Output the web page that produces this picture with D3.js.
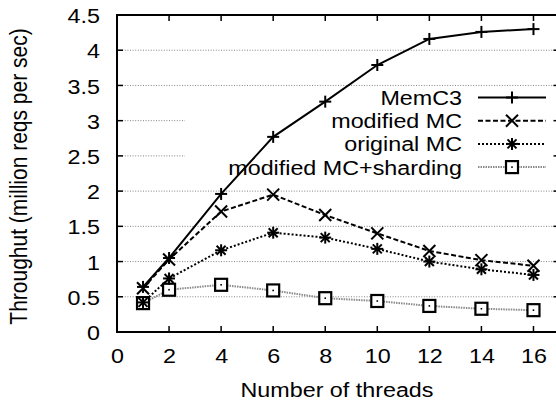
<!DOCTYPE html>
<html><head><meta charset="utf-8">
<script src="https://cdn.jsdelivr.net/npm/d3@7"></script>
<style>
body{margin:0;background:#fff;}
text{font-family:"Liberation Sans",Arial,Helvetica,sans-serif;}
</style></head>
<body><svg id="c" width="556" height="405"></svg>
<script>
const threads = [1, 2, 4, 6, 8, 10, 12, 14, 16];
const memc3 = [0.64, 1.05, 1.96, 2.77, 3.27, 3.79, 4.16, 4.26, 4.30];
const modifiedMC = [0.62, 1.03, 1.71, 1.95, 1.66, 1.40, 1.15, 1.02, 0.94];
const originalMC = [0.42, 0.76, 1.16, 1.41, 1.34, 1.18, 1.00, 0.89, 0.81];
const shardingMC = [0.41, 0.60, 0.67, 0.59, 0.48, 0.44, 0.37, 0.33, 0.31];
const seriesNames = ["MemC3", "modified MC", "original MC", "modified MC+sharding"];
const xTicks = [0, 2, 4, 6, 8, 10, 12, 14, 16];
const yTicks = [0, 0.5, 1, 1.5, 2, 2.5, 3, 3.5, 4, 4.5];

const FS = 21, SX = 1.11;
const svg = d3.select("#c");
const L = 117, T = 15, B = 332, R = 559.5;
const x = d3.scaleLinear().domain([0, 17]).range([L, R]);
const y = d3.scaleLinear().domain([0, 4.5]).range([B, T]);

const series = [
  {name: seriesNames[0], vals: memc3, stroke: "#000", dash: null, marker: "plus"},
  {name: seriesNames[1], vals: modifiedMC, stroke: "#000", dash: "5,2.5", marker: "cross"},
  {name: seriesNames[2], vals: originalMC, stroke: "#000", dash: "2,2", marker: "star"},
  {name: seriesNames[3], vals: shardingMC, stroke: "#8a8a8a", dash: "1.5,1", marker: "square"}
];

function htext(px, py, str, anchor) {
  return svg.append("text").attr("transform", `translate(${px},${py}) scale(${SX},1)`)
    .attr("text-anchor", anchor).attr("font-size", FS).attr("fill", "#000").text(str);
}

// grid
const grid = svg.append("g");
yTicks.filter(d => d > 0 && d < 4.5).forEach(v => {
  grid.append("line").attr("x1", L).attr("x2", 556).attr("y1", y(v)).attr("y2", y(v))
    .attr("stroke", "#666").attr("stroke-width", 0.8).attr("stroke-dasharray", "1,1.6");
});

// legend opaque box
svg.append("rect").attr("x", 185).attr("y", 88).attr("width", 371).attr("height", 100).attr("fill", "#fff");

// axes
const xAxisB = d3.axisBottom(x).tickValues(xTicks).tickSize(0).tickPadding(0);
const gx = svg.append("g").attr("transform", `translate(0,${B})`).call(xAxisB);
gx.select(".domain").remove();
gx.selectAll("text").attr("font-size", FS).attr("fill", "#000").attr("dy", null).attr("y", null)
  .attr("transform", `translate(0,31) scale(${SX},1)`)
  .style("font-family", '"Liberation Sans",Arial,sans-serif');

const yAxisL = d3.axisLeft(y).tickValues(yTicks).tickSize(0).tickPadding(0).tickFormat(d3.format("~g"));
const gy = svg.append("g").attr("transform", `translate(${L},0)`).call(yAxisL);
gy.select(".domain").remove();
gy.selectAll("text").attr("font-size", FS).attr("fill", "#000").attr("x", null).attr("dy", "0.36em")
  .attr("transform", `translate(-17,0) scale(${SX},1)`)
  .style("font-family", '"Liberation Sans",Arial,sans-serif');

// tick marks inward
const tk = svg.append("g").attr("stroke", "#000").attr("stroke-width", 1.5);
xTicks.filter(d => d > 0).forEach(v => {
  tk.append("line").attr("x1", x(v)).attr("x2", x(v)).attr("y1", B).attr("y2", B - 6);
  tk.append("line").attr("x1", x(v)).attr("x2", x(v)).attr("y1", T).attr("y2", T + 6);
});
yTicks.filter(d => d > 0 && d < 4.5).forEach(v => {
  tk.append("line").attr("x1", L).attr("x2", L + 6).attr("y1", y(v)).attr("y2", y(v));
  tk.append("line").attr("x1", R).attr("x2", R - 6).attr("y1", y(v)).attr("y2", y(v));
});

// frame
svg.append("rect").attr("x", L).attr("y", T).attr("width", R - L).attr("height", B - T)
  .attr("fill", "none").attr("stroke", "#000").attr("stroke-width", 2);

// axis titles
htext(337, 397, "Number of threads", "middle");
svg.append("text").attr("transform", `translate(27,${(T + B) / 2 + 3}) rotate(-90) scale(1,${SX})`)
  .attr("text-anchor", "middle").attr("font-size", FS).text("Throughut (million reqs per sec)");

function marker(g, type, cx, cy) {
  const s = 6;
  const m = g.append("g").attr("stroke", "#000").attr("stroke-width", 2).attr("fill", "none");
  if (type === "plus" || type === "star") {
    m.append("line").attr("x1", cx - s).attr("x2", cx + s).attr("y1", cy).attr("y2", cy);
    m.append("line").attr("x1", cx).attr("x2", cx).attr("y1", cy - s).attr("y2", cy + s);
  }
  if (type === "cross" || type === "star") {
    const k = type === "star" ? 4.5 : 6;
    m.append("line").attr("x1", cx - k).attr("x2", cx + k).attr("y1", cy - k).attr("y2", cy + k);
    m.append("line").attr("x1", cx - k).attr("x2", cx + k).attr("y1", cy + k).attr("y2", cy - k);
  }
  if (type === "square") {
    m.append("rect").attr("x", cx - 6).attr("y", cy - 6).attr("width", 12).attr("height", 12)
      .attr("fill", "#fff").attr("stroke-width", 2.2);
    m.append("rect").attr("x", cx - 0.8).attr("y", cy - 0.8).attr("width", 1.6).attr("height", 1.6)
      .attr("fill", "#000").attr("stroke", "none");
  }
}

// legend
const legY0 = 97.5, legDy = 23.2;
series.forEach((s, i) => {
  const ly = legY0 + i * legDy;
  htext(462, ly + 7.5, s.name, "end");
  svg.append("line").attr("x1", 478).attr("x2", 546).attr("y1", ly).attr("y2", ly)
    .attr("stroke", s.stroke).attr("stroke-width", 2).attr("stroke-dasharray", s.dash);
});

// data lines
const line = d3.line().x((d, i) => x(threads[i])).y(d => y(d));
const order = [3, 2, 1, 0];
order.forEach(i => {
  const s = series[i];
  svg.append("path").datum(s.vals).attr("d", line).attr("fill", "none")
    .attr("stroke", s.stroke).attr("stroke-width", 2).attr("stroke-dasharray", s.dash);
});
order.forEach(i => {
  const s = series[i];
  const g = svg.append("g");
  s.vals.forEach((v, j) => marker(g, s.marker, x(threads[j]), y(v)));
  marker(g, s.marker, 512, legY0 + i * legDy);
});
</script></body></html>
